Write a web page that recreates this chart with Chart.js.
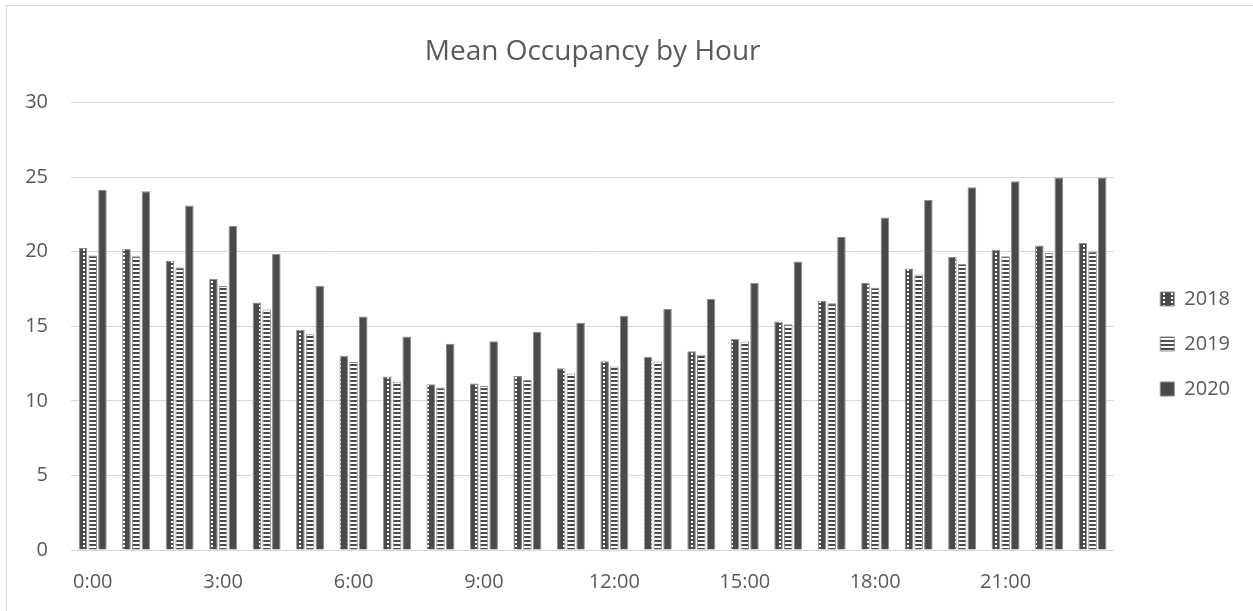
<!DOCTYPE html>
<html>
<head>
<meta charset="utf-8">
<script src="https://cdn.jsdelivr.net/npm/chart.js@4/dist/chart.umd.min.js"></script>
<style>
  body { margin: 0; background: #fff; }
  #wrap { position: relative; width: 1253px; height: 611px; overflow: hidden; }
  #frame { position: absolute; left: 6px; top: 5px; width: 1270px; height: 630px; border: 1px solid #d9d9d9; }
  #chart { position: absolute; left: 0; top: 0; }
</style>
</head>
<body>
<div id="wrap">
  <div id="frame"></div>
  <canvas id="chart" width="1253" height="611"></canvas>
</div>
<script>
const hours = ['0:00', '1:00', '2:00', '3:00', '4:00', '5:00', '6:00', '7:00', '8:00', '9:00', '10:00', '11:00',
  '12:00', '13:00', '14:00', '15:00', '16:00', '17:00', '18:00', '19:00', '20:00', '21:00', '22:00', '23:00'];
const years = ['2018', '2019', '2020'];

const occ2018 = [20.25, 20.2, 19.4, 18.17, 16.6, 14.77, 13.02, 11.63, 11.12, 11.16, 11.66, 12.19,
  12.66, 12.95, 13.33, 14.16, 15.32, 16.71, 17.9, 18.88, 19.64, 20.13, 20.42, 20.58];
const occ2019 = [19.75, 19.7, 18.95, 17.7, 16.13, 14.46, 12.6, 11.28, 10.9, 11.0, 11.41, 11.83,
  12.3, 12.64, 13.1, 13.98, 15.14, 16.55, 17.58, 18.48, 19.19, 19.69, 19.91, 20.02];
const occ2020 = [24.16, 24.05, 23.1, 21.75, 19.87, 17.72, 15.66, 14.32, 13.83, 14.0, 14.61, 15.23,
  15.7, 16.17, 16.83, 17.9, 19.35, 21.0, 22.3, 23.47, 24.32, 24.72, 24.97, 24.97];

const dark = '#4a4a4a';
const textColor = '#595959';
const gridColor = '#d9d9d9';

// small tiles for the Excel-like fills
function makePattern(w, h, draw) {
  const tile = document.createElement('canvas');
  tile.width = w;
  tile.height = h;
  const c = tile.getContext('2d');
  draw(c);
  return document.getElementById('chart').getContext('2d').createPattern(tile, 'repeat');
}

const dotted = makePattern(8, 4, c => {
  c.fillStyle = dark;
  c.fillRect(0, 0, 8, 4);
  c.fillStyle = '#ffffff';
  c.fillRect(3, 1, 2, 2);
});

const striped = makePattern(4, 4, c => {
  c.fillStyle = '#ffffff';
  c.fillRect(0, 0, 4, 4);
  c.fillStyle = dark;
  c.fillRect(0, 0, 4, 2);
});

const ctx = document.getElementById('chart').getContext('2d');

new Chart(ctx, {
  type: 'bar',
  data: {
    labels: hours,
    datasets: [
      { label: years[0], data: occ2018, backgroundColor: dotted, borderColor: '#8c8c8c', borderWidth: 1 },
      { label: years[1], data: occ2019, backgroundColor: striped, borderColor: '#8c8c8c', borderWidth: 1 },
      { label: years[2], data: occ2020, backgroundColor: dark, borderColor: '#8c8c8c', borderWidth: 1 }
    ]
  },
  options: {
    responsive: false,
    animation: false,
    devicePixelRatio: 1,
    categoryPercentage: 0.67,
    barPercentage: 0.88,
    layout: { padding: { left: 0, right: 13, top: 0, bottom: 0 } },
    scales: {
      x: {
        grid: { display: false, drawTicks: false },
        border: { display: true, color: gridColor, width: 1 },
        ticks: {
          autoSkip: false,
          maxRotation: 0,
          padding: 20,
          color: textColor,
          font: { family: 'Open Sans', size: 20 },
          callback: function (value, index) {
            return index % 3 === 0 ? hours[index] : '';
          }
        },
        afterFit: function (scale) { scale.height = 61; }
      },
      y: {
        min: 0,
        max: 30,
        grid: { color: gridColor, lineWidth: 1, drawTicks: false },
        border: { display: false },
        ticks: {
          stepSize: 5,
          padding: 23,
          color: textColor,
          font: { family: 'Open Sans', size: 20 }
        },
        afterFit: function (scale) { scale.width = 71; }
      },
      // empty axis: keeps a gap between the plot and the legend
      gap: {
        position: 'right',
        display: true,
        grid: { display: false },
        border: { display: false },
        ticks: { display: false },
        afterFit: function (scale) { scale.width = 21; }
      }
    },
    plugins: {
      title: {
        display: true,
        text: 'Mean Occupancy by Hour',
        fullSize: false,
        color: textColor,
        font: { family: 'Open Sans', size: 28, weight: 'normal' },
        padding: { top: 35, bottom: 34 }
      },
      legend: {
        position: 'right',
        align: 'center',
        title: { display: true, text: '', font: { size: 10 }, padding: { top: 65, bottom: 0 } },
        labels: {
          boxWidth: 14,
          boxHeight: 14,
          padding: 25,
          color: textColor,
          font: { family: 'Open Sans', size: 20 }
        }
      },
      tooltip: { enabled: false }
    }
  }
});
</script>
</body>
</html>
